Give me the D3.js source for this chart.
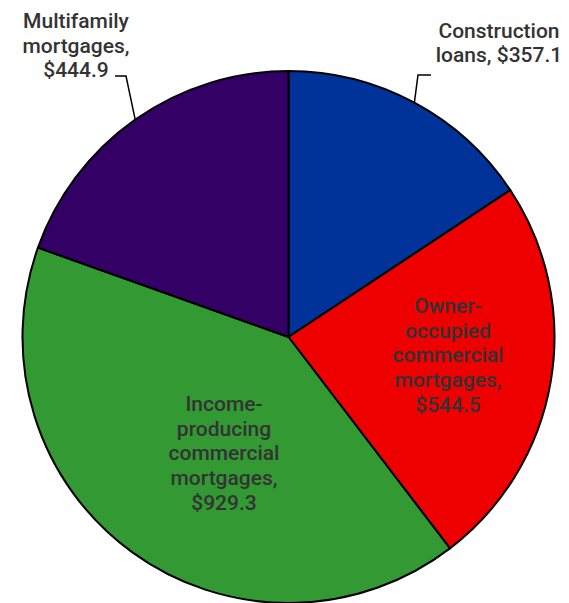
<!DOCTYPE html>
<html>
<head>
<meta charset="utf-8">
<script src="https://cdn.jsdelivr.net/npm/d3@7"></script>
<style>
  html, body { margin: 0; padding: 0; background: #fff; }
  svg { display: block; }
</style>
</head>
<body>
<svg id="chart" width="569" height="603"></svg>
<script>
// ---- data ----
const categories = [
  "Construction loans",
  "Owner-occupied commercial mortgages",
  "Income-producing commercial mortgages",
  "Multifamily mortgages"
];
const values = [357.1, 544.5, 929.3, 444.9];
const labelLines = [
  ["Construction", "loans, $357.1"],
  ["Owner-", "occupied", "commercial", "mortgages,", "$544.5"],
  ["Income-", "producing", "commercial", "mortgages,", "$929.3"],
  ["Multifamily", "mortgages,", "$444.9"]
];
const colors = ["#003399", "#ee0000", "#339933", "#330066"];

// ---- layout ----
const cx = 288.5, cy = 337, radius = 266;
const lineH = 24.7;
// label anchor: center x, first baseline y; leader: elbow + end (null if inside)
const labelLayout = [
  { x: 499, y: 37.5, leader: [[418, 75], [431, 75]] },
  { x: 448, y: 313, leader: null },
  { x: 224, y: 411, leader: null },
  { x: 76, y: 28, leader: [[126, 76], [115, 76]] }
];

const svg = d3.select("#chart");
const g = svg.append("g").attr("transform", `translate(${cx},${cy})`);

const pie = d3.pie().sort(null).value(d => d)(values);
const arc = d3.arc().innerRadius(0).outerRadius(radius);

g.selectAll("path.slice")
  .data(pie)
  .join("path")
  .attr("class", "slice")
  .attr("d", arc)
  .attr("fill", (d, i) => colors[i])
  .attr("stroke", "#000")
  .attr("stroke-width", 2)
  .attr("stroke-linejoin", "round");

// leader lines from outer edge at slice mid-angle
pie.forEach((d, i) => {
  const lay = labelLayout[i];
  if (!lay.leader) return;
  const a = (d.startAngle + d.endAngle) / 2;
  const sx = cx + radius * Math.sin(a);
  const sy = cy - radius * Math.cos(a);
  const pts = [[sx, sy], ...lay.leader];
  svg.append("path")
    .attr("d", d3.line()(pts))
    .attr("fill", "none")
    .attr("stroke", "#000")
    .attr("stroke-width", 1.5);
});

// labels
labelLines.forEach((lines, i) => {
  const lay = labelLayout[i];
  const t = svg.append("text")
    .attr("text-anchor", "middle")
    .attr("font-family", "Roboto, 'Noto Sans', sans-serif")
    .attr("font-size", 21)
    .attr("font-weight", 500)
    .attr("fill", "#333");
  lines.forEach((ln, j) => {
    t.append("tspan")
      .attr("x", lay.x)
      .attr("y", lay.y + j * lineH)
      .text(ln);
  });
});
</script>
</body>
</html>
